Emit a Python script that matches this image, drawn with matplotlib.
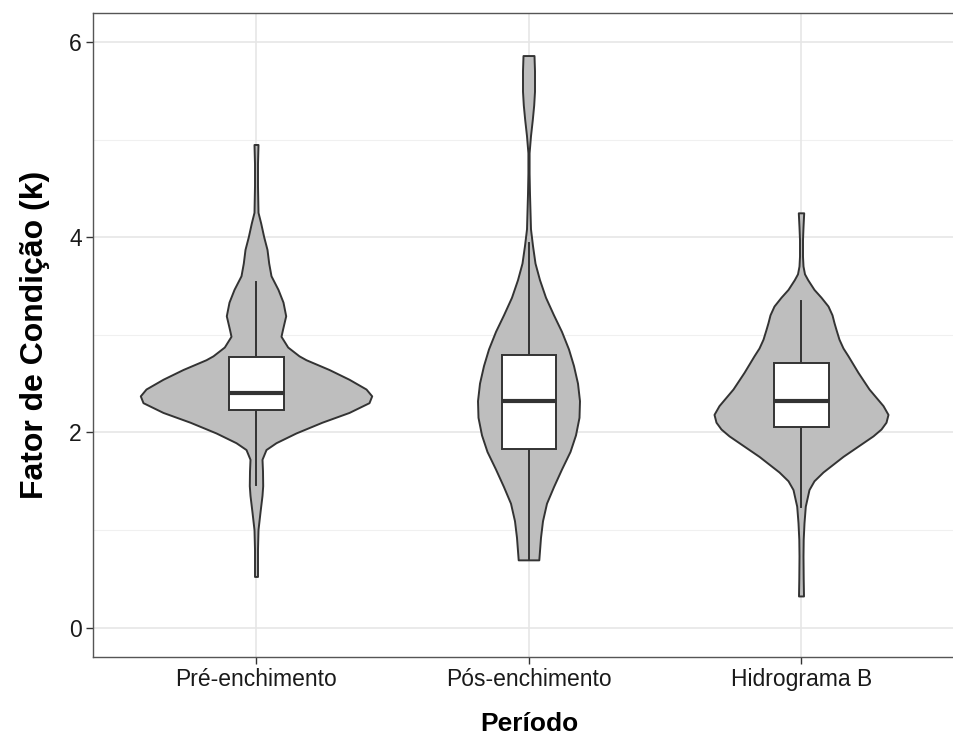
import matplotlib
matplotlib.use("Agg")
import matplotlib.pyplot as plt
import numpy as np

plt.rcParams['font.family'] = ['Liberation Sans', 'DejaVu Sans']

categories = ["Pré-enchimento", "Pós-enchimento", "Hidrograma B"]

# violin outlines: y values and half-widths (pixels at category spacing of 272.5 px)
v1_y = [0.52, 0.8, 1.0, 1.18, 1.35, 1.45, 1.6, 1.72, 1.82, 1.89, 1.99, 2.10, 2.20, 2.30, 2.37,
        2.44, 2.54, 2.64, 2.74, 2.78, 2.87, 2.98, 3.05, 3.19, 3.33, 3.46, 3.60, 3.73, 3.87,
        4.0, 4.14, 4.25, 4.52, 4.75, 4.945]
v1_w = [1.5, 1.5, 2.0, 4.0, 6.0, 6.7, 6.5, 6.0, 10, 20, 40, 66, 93, 113, 115.7,
        110, 93, 73, 50, 43, 31.7, 25, 26.5, 29.7, 27, 22, 15, 12.7, 11,
        7.7, 4.7, 2.0, 1.5, 1.5, 2.0]

v2_y = [0.69, 0.92, 1.09, 1.27, 1.44, 1.62, 1.80, 1.97, 2.15, 2.32, 2.50, 2.68, 2.85, 3.03,
        3.20, 3.38, 3.56, 3.73, 3.91, 4.08, 4.44, 4.65, 4.86, 5.035, 5.2, 5.35, 5.49, 5.7, 5.856]
v2_w = [10.3, 12, 14, 18, 25, 33, 41.5, 47, 50.5, 51, 49, 45, 40, 33,
        25, 17, 11, 6.5, 4, 2, 1, 0.6, 0.6, 2.0, 3.8, 5.2, 6.0, 6.0, 5.5]

v3_y = [0.32, 0.5, 0.73, 0.9, 1.07, 1.24, 1.41, 1.50, 1.59, 1.75, 1.89, 1.96, 2.03, 2.10, 2.18,
        2.27, 2.44, 2.61, 2.78, 2.86, 2.95, 3.05, 3.12, 3.20, 3.29, 3.38, 3.46, 3.56, 3.62,
        3.70, 3.80, 3.97, 4.1, 4.245]
v3_w = [2.5, 2.2, 2.0, 2.2, 3.0, 4.3, 8, 13, 22, 42, 62, 72, 80, 85, 87,
        82, 68, 57, 47, 42, 38, 35, 33, 31, 27, 20, 13, 6.7, 3.5,
        2.0, 1.5, 1.5, 2.0, 2.7]

# boxplot stats: lower whisker, q1, median, q3, upper whisker
box_low = [1.46, 0.69, 1.24]
box_q1 = [2.23, 1.83, 2.06]
box_med = [2.40, 2.32, 2.32]
box_q3 = [2.77, 2.79, 2.71]
box_high = [3.54, 3.94, 3.35]

y_ticks = [0, 2, 4, 6]
x_label = "Período"
y_label = "Fator de Condição (k)"

W, H = 954, 742
fig = plt.figure(figsize=(W / 100, H / 100), dpi=100)
ax = fig.add_axes([93 / W, (742 - 657) / H, 872 / W, (657 - 12.7) / H])

ax.set_xlim(0.4, 3.6)
ax.set_ylim(-0.3, 6.3)
PX = 272.5  # pixels per category unit

ax.set_axisbelow(True)
ax.set_facecolor("white")
for v in [1, 3, 5]:
    ax.axhline(v, color="#F0F0F0", lw=0.8, zorder=0)
for v in y_ticks:
    ax.axhline(v, color="#E6E6E6", lw=1.2, zorder=0)
for i in range(len(categories)):
    ax.axvline(i + 1, color="#E6E6E6", lw=1.2, zorder=0)

edge = "#333333"
for i, (vy, vw) in enumerate([(v1_y, v1_w), (v2_y, v2_w), (v3_y, v3_w)]):
    c = i + 1
    vy = np.asarray(vy)
    hw = np.asarray(vw) / PX
    xs = np.concatenate([c + hw, (c - hw)[::-1]])
    ys = np.concatenate([vy, vy[::-1]])
    ax.fill(xs, ys, facecolor="#BEBEBE", edgecolor=edge, lw=1.4, zorder=2, joinstyle="round")

    bw = 0.1
    ax.plot([c, c], [box_low[i], box_q1[i]], color=edge, lw=1.4, zorder=3)
    ax.plot([c, c], [box_q3[i], box_high[i]], color=edge, lw=1.4, zorder=3)
    rect = plt.Rectangle((c - bw, box_q1[i]), 2 * bw, box_q3[i] - box_q1[i],
                         facecolor="white", edgecolor=edge, lw=1.4, zorder=4)
    ax.add_patch(rect)
    ax.plot([c - bw, c + bw], [box_med[i], box_med[i]], color=edge, lw=3.0,
            zorder=5, solid_capstyle="butt")

ax.set_xticks(range(1, len(categories) + 1))
ax.set_xticklabels(categories)
ax.set_yticks(y_ticks)
ax.tick_params(axis="both", colors="#333333", labelcolor="#1a1a1a", labelsize=16.5,
               length=5, width=1)
ax.tick_params(axis="x", pad=3)
ax.tick_params(axis="y", pad=3)

for s in ax.spines.values():
    s.set_color("#555555")
    s.set_linewidth(1.0)
ax.spines["right"].set_visible(False)

ax.set_xlabel(x_label, fontsize=19, fontweight="bold", labelpad=15)
ax.set_ylabel(y_label, fontsize=23, fontweight="bold", labelpad=14)

fig.savefig("out.png", dpi=100)
